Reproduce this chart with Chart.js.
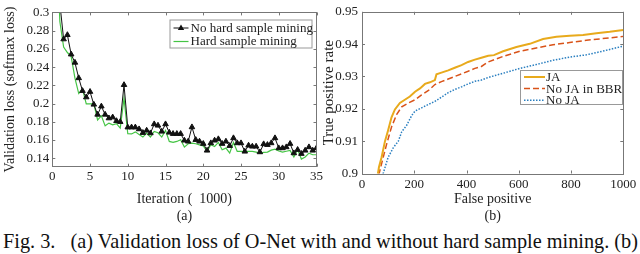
<!DOCTYPE html>
<html>
<head>
<meta charset="utf-8">
<script src="https://cdn.jsdelivr.net/npm/chart.js@4.4.1/dist/chart.umd.min.js"></script>
<style>
  body { margin: 0; background: #fff; width: 640px; height: 254px; overflow: hidden; position: relative; font-family: "Liberation Serif", serif; }
  #lossChart { position: absolute; left: 0; top: 0; }
  #rocChart { position: absolute; left: 318px; top: 0; }
  #caption { position: absolute; left: 3px; top: 230px; font-size: 20.3px; white-space: pre; color: #111; }
</style>
</head>
<body>
<canvas id="lossChart" width="330" height="230"></canvas>
<canvas id="rocChart" width="322" height="230"></canvas>
<div id="caption">Fig. 3.   (a) Validation loss of O-Net with and without hard sample mining. (b)</div>
<script>
// (a) validation loss
const iterations = [0.5, 1, 1.5, 2, 2.5, 3, 3.5, 4, 4.5, 5, 5.5, 6, 6.5, 7, 7.5, 8, 8.5, 9, 9.5, 10,
  10.5, 11, 11.5, 12, 12.5, 13, 13.5, 14, 14.5, 15, 15.5, 16, 16.5, 17, 17.5, 18, 18.5, 19, 19.5, 20,
  20.5, 21, 21.5, 22, 22.5, 23, 23.5, 24, 24.5, 25, 25.5, 26, 26.5, 27, 27.5, 28, 28.5, 29, 29.5, 30,
  30.5, 31, 31.5, 32, 32.5, 33, 33.5, 34, 34.5, 35];
const lossNoHard = [0.42, 0.31, 0.2706, 0.2753, 0.254, 0.245, 0.228, 0.214, 0.207, 0.213,
  0.199, 0.188, 0.197, 0.188, 0.184, 0.185, 0.181, 0.180, 0.2205, 0.174,
  0.174, 0.174, 0.172, 0.168, 0.1705, 0.1676, 0.1775, 0.176, 0.1694, 0.1775,
  0.1683, 0.1669, 0.1669, 0.1669, 0.1596, 0.1585, 0.1742, 0.1603, 0.1585, 0.156,
  0.1486, 0.1567, 0.1596, 0.1611, 0.156, 0.1585, 0.1537, 0.1622, 0.1567, 0.1567,
  0.1475, 0.1541, 0.153, 0.153, 0.1468, 0.1556, 0.1548, 0.1567, 0.1622, 0.1512,
  0.1512, 0.1523, 0.156, 0.1457, 0.1494, 0.145, 0.1486, 0.1523, 0.1486, 0.1512];
const lossHard = [0.40, 0.29, 0.262, 0.256, 0.2515, 0.228, 0.211, 0.216, 0.1997, 0.1997,
  0.2, 0.182, 0.1866, 0.1756, 0.1786, 0.1767, 0.178, 0.1731, 0.206, 0.1669,
  0.1667, 0.169, 0.166, 0.1633, 0.1676, 0.1633, 0.1694, 0.168, 0.1633, 0.1705,
  0.1585, 0.1574, 0.1585, 0.1603, 0.1523, 0.156, 0.1567, 0.156, 0.1548, 0.1535,
  0.1475, 0.1548, 0.153, 0.1574, 0.1494, 0.1512, 0.1457, 0.1574, 0.1475, 0.1475,
  0.1475, 0.1475, 0.1475, 0.1468, 0.1457, 0.1465, 0.1468, 0.149, 0.1501, 0.148,
  0.1468, 0.1477, 0.1486, 0.1414, 0.1494, 0.1392, 0.1414, 0.1457, 0.1439, 0.1439];
const lossXTicks = [0, 5, 10, 15, 20, 25, 30, 35];
const lossYTicks = [0.14, 0.16, 0.18, 0.2, 0.22, 0.24, 0.26, 0.28, 0.3];

// (b) ROC curves
const jaFP = [60, 65, 75, 88, 100, 113, 126, 145, 164, 183, 203, 222, 241, 260, 279, 285, 304, 330, 355,
  381, 406, 432, 457, 483, 505, 540, 591, 642, 693, 744, 795, 846, 897, 948, 1000];
const jaTPR = [0.8995, 0.902, 0.905, 0.910, 0.9134, 0.9174, 0.9198, 0.9218, 0.9228, 0.9238, 0.9253, 0.9263,
  0.9277, 0.9282, 0.9289, 0.9307, 0.9312, 0.9319, 0.9327, 0.9335, 0.9345, 0.9352, 0.9358, 0.9364, 0.9366,
  0.9378, 0.9391, 0.9401, 0.9416, 0.9423, 0.9426, 0.9428, 0.9434, 0.9438, 0.9444];
const bbrFP = [64, 78, 94, 113, 133, 152, 177, 203, 228, 253, 279, 304, 330, 355, 381, 406, 432, 457, 483,
  540, 604, 667, 731, 795, 859, 920, 1000];
const bbrTPR = [0.8995, 0.904, 0.909, 0.9144, 0.9183, 0.9206, 0.9218, 0.9228, 0.9243, 0.9256, 0.9275, 0.9284,
  0.9292, 0.930, 0.9308, 0.9316, 0.9325, 0.9331, 0.9345, 0.9362, 0.9378, 0.9388, 0.9398, 0.9405, 0.9412,
  0.9417, 0.9424];
const noJaFP = [78, 81, 100, 120, 139, 152, 171, 190, 203, 228, 253, 279, 304, 330, 355, 381, 406, 432, 457,
  483, 505, 540, 604, 667, 731, 795, 859, 920, 1000];
const noJaTPR = [0.899, 0.9, 0.905, 0.908, 0.910, 0.9129, 0.9149, 0.9179, 0.9193, 0.9203, 0.9213, 0.9223,
  0.9236, 0.925, 0.926, 0.9268, 0.9277, 0.9285, 0.9289, 0.9297, 0.9302, 0.931, 0.9325, 0.9337, 0.935,
  0.936, 0.9367, 0.9378, 0.9394];
const rocXTicks = [0, 200, 400, 600, 800, 1000];
const rocYTicks = [0.9, 0.91, 0.92, 0.93, 0.94, 0.95];

const toPoints = (xs, ys) => xs.map((x, i) => ({ x: x, y: ys[i] }));
const serif = "'Liberation Serif', 'Times New Roman', serif";
const textColor = "#222";

// matlab style box with inward ticks
const boxTicks = {
  id: "boxTicks",
  afterDatasetsDraw(chart) {
    const { ctx, chartArea: a, scales: { x, y } } = chart;
    ctx.save();
    ctx.strokeStyle = "#777";
    ctx.lineWidth = 1;
    ctx.strokeRect(Math.round(a.left) + 0.5, Math.round(a.top) + 0.5,
      Math.round(a.right - a.left), Math.round(a.bottom - a.top));
    ctx.beginPath();
    x.ticks.forEach(t => {
      const p = Math.round(x.getPixelForValue(t.value)) + 0.5;
      ctx.moveTo(p, a.bottom); ctx.lineTo(p, a.bottom - 3);
      ctx.moveTo(p, a.top); ctx.lineTo(p, a.top + 3);
    });
    y.ticks.forEach(t => {
      const p = Math.round(y.getPixelForValue(t.value)) + 0.5;
      ctx.moveTo(a.left, p); ctx.lineTo(a.left + 3, p);
      ctx.moveTo(a.right, p); ctx.lineTo(a.right - 3, p);
    });
    ctx.stroke();
    ctx.restore();
  }
};

// boxed legend placed inside the plot
const boxLegend = {
  id: "boxLegend",
  afterDraw(chart, args, opts) {
    const { ctx } = chart;
    ctx.save();
    ctx.fillStyle = "#fff";
    ctx.fillRect(opts.x, opts.y, opts.w, opts.h);
    ctx.strokeStyle = "#999";
    ctx.lineWidth = 1;
    ctx.strokeRect(opts.x + 0.5, opts.y + 0.5, opts.w, opts.h);
    ctx.font = "13px " + serif;
    ctx.textBaseline = "middle";
    chart.data.datasets.forEach((ds, i) => {
      const ry = opts.y + opts.row0 + i * opts.rowH;
      ctx.strokeStyle = ds.borderColor;
      ctx.lineWidth = ds.borderWidth;
      ctx.setLineDash(ds.borderDash || []);
      ctx.beginPath();
      ctx.moveTo(opts.x + opts.lineX0, ry);
      ctx.lineTo(opts.x + opts.lineX1, ry);
      ctx.stroke();
      ctx.setLineDash([]);
      if (ds.pointRadius > 0) {
        const cx = (opts.x + opts.lineX0 + opts.x + opts.lineX1) / 2;
        ctx.fillStyle = ds.pointBackgroundColor;
        ctx.beginPath();
        ctx.moveTo(cx, ry - 3.5); ctx.lineTo(cx + 3.2, ry + 2); ctx.lineTo(cx - 3.2, ry + 2);
        ctx.closePath(); ctx.fill();
      }
      ctx.fillStyle = textColor;
      ctx.fillText(ds.label, opts.x + opts.textX, ry + 0.5);
    });
    ctx.restore();
  }
};

function axisOpts(min, max, ticks, title, tickPad, size, fmt) {
  return {
    type: "linear",
    min: min,
    max: max,
    grid: { display: false, drawTicks: false },
    border: { display: false },
    afterBuildTicks: s => { s.ticks = ticks.map(v => ({ value: v })); },
    afterFit: s => { if (s.isHorizontal()) s.height = size; else s.width = size; },
    ticks: {
      color: textColor,
      padding: tickPad,
      maxRotation: 0,
      autoSkip: false,
      font: { family: serif, size: 13 },
      callback: fmt
    },
    title: title
  };
}

new Chart(document.getElementById("lossChart"), {
  type: "line",
  data: {
    datasets: [
      {
        label: "No hard sample mining",
        data: toPoints(iterations, lossNoHard),
        borderColor: "#111",
        borderWidth: 1,
        pointStyle: "triangle",
        pointRadius: 3.2,
        pointBackgroundColor: "#111",
        pointBorderColor: "#111",
        pointBorderWidth: 1,
        tension: 0
      },
      {
        label: "Hard sample mining",
        data: toPoints(iterations, lossHard),
        borderColor: "#44c444",
        borderWidth: 1.2,
        pointRadius: 0,
        tension: 0
      }
    ]
  },
  options: {
    responsive: false,
    animation: false,
    layout: { padding: { top: 12.4, right: 13.5, left: 0, bottom: 0 } },
    plugins: {
      legend: { display: false },
      tooltip: { enabled: false },
      boxLegend: { x: 169.5, y: 19.5, w: 142, h: 28, row0: 8.5, rowH: 13.5, lineX0: 4, lineX1: 19, textX: 21 }
    },
    scales: {
      x: axisOpts(0, 35, lossXTicks, {
        display: true, text: ["Iteration (  1000)", "(a)"], color: textColor,
        font: { family: serif, size: 14, lineHeight: 1.24 }, padding: { top: 0, bottom: 4.6 }
      }, 2.2, 63.3, v => String(v)),
      y: axisOpts(0.1308, 0.3, lossYTicks, {
        display: true, text: "Validation loss (softmax loss)", color: textColor,
        font: { family: serif, size: 14, lineHeight: 1.2 }, padding: { top: 1.6, bottom: 0 }
      }, 3, 52.3, v => String(v))
    }
  },
  plugins: [boxTicks, boxLegend]
});

new Chart(document.getElementById("rocChart"), {
  type: "line",
  data: {
    datasets: [
      {
        label: "JA",
        data: toPoints(jaFP, jaTPR),
        borderColor: "#e8aa1c",
        borderWidth: 2,
        pointRadius: 0,
        tension: 0
      },
      {
        label: "No JA in BBR",
        data: toPoints(bbrFP, bbrTPR),
        borderColor: "#d95319",
        borderWidth: 1.5,
        borderDash: [6, 3],
        pointRadius: 0,
        tension: 0
      },
      {
        label: "No JA",
        data: toPoints(noJaFP, noJaTPR),
        borderColor: "#2a7fc0",
        borderWidth: 1.5,
        borderDash: [1.5, 1.5],
        pointRadius: 0,
        tension: 0
      }
    ]
  },
  options: {
    responsive: false,
    animation: false,
    layout: { padding: { top: 5, right: 15.5, left: 0, bottom: 0 } },
    plugins: {
      legend: { display: false },
      tooltip: { enabled: false },
      boxLegend: { x: 202, y: 70, w: 102, h: 34, row0: 7, rowH: 11.6, lineX0: 4, lineX1: 25, textX: 26 }
    },
    scales: {
      x: axisOpts(0, 1000, rocXTicks, {
        display: true, text: ["False positive", "(b)"], color: textColor,
        font: { family: serif, size: 14, lineHeight: 1.24 }, padding: { top: 0, bottom: 4.6 }
      }, 3.7, 56.5, v => String(v)),
      y: axisOpts(0.9, 0.95, rocYTicks, {
        display: true, text: "True positive rate", color: textColor,
        font: { family: serif, size: 15, lineHeight: 1.2 }, padding: { top: 2, bottom: 0 }
      }, 4, 44, v => String(v))
    }
  },
  plugins: [boxTicks, boxLegend]
});
</script>
</body>
</html>
